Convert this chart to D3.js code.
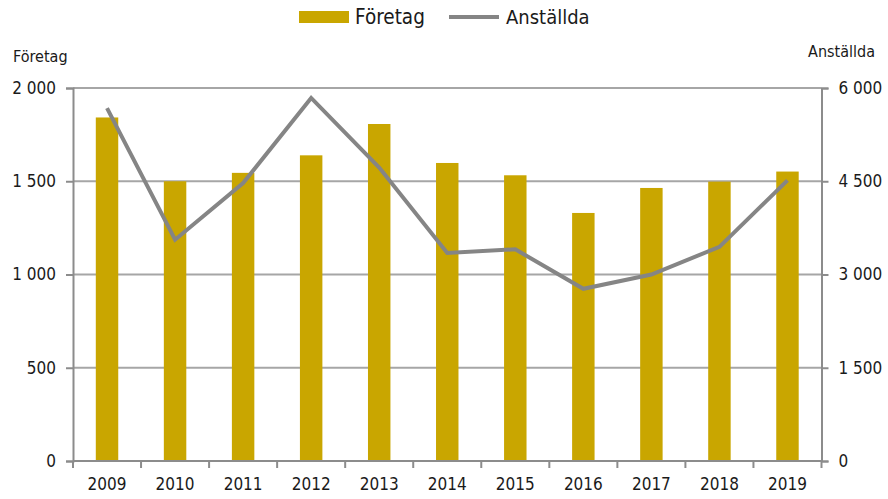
<!DOCTYPE html>
<html><head><meta charset="utf-8">
<script src="https://cdn.jsdelivr.net/npm/d3@7"></script>
<style>
body{margin:0;background:#fff;}
text{font-family:"DejaVu Sans Condensed","DejaVu Sans",sans-serif;font-stretch:condensed;fill:#1a1a1a;}
</style></head>
<body><svg id="c" width="888" height="499"></svg>
<script>
const years = ["2009","2010","2011","2012","2013","2014","2015","2016","2017","2018","2019"];
const foretag = [1842,1500,1545,1639,1807,1598,1532,1330,1464,1498,1552];
const anstallda = [5675,3560,4470,5840,4720,3345,3405,2770,3000,3445,4515];
const leftTicks = [0,500,1000,1500,2000];
const rightTicks = [0,1500,3000,4500,6000];

const svg = d3.select("#c");
const L=73, R=821.5, T=88, B=461;
const fmt = v => d3.format(",")(v).replace(/,/g," ");

const x = d3.scaleBand().domain(years).range([L,R]).paddingInner(0).paddingOuter(0);
const yL = d3.scaleLinear().domain([0,2000]).range([B,T]);
const yR = d3.scaleLinear().domain([0,6000]).range([B,T]);

// gridlines
svg.append("g").selectAll("line").data(leftTicks.filter(d=>d>0)).join("line")
  .attr("x1",L).attr("x2",R).attr("y1",d=>yL(d)).attr("y2",d=>yL(d))
  .attr("stroke","#a6a6a6").attr("stroke-width",2);

// bars
const bw = x.bandwidth()*0.33;
svg.append("g").selectAll("rect").data(years).join("rect")
  .attr("x",(d)=>x(d)+x.bandwidth()/2-bw/2)
  .attr("width",bw)
  .attr("y",(d,i)=>yL(foretag[i]))
  .attr("height",(d,i)=>B-yL(foretag[i]))
  .attr("fill","#c9a600");

// axes
const axColor="#8c8c8c";
const gl = svg.append("g").attr("transform",`translate(${L},0)`)
  .call(d3.axisLeft(yL).tickValues(leftTicks).tickFormat(fmt).tickSize(7).tickPadding(10));
const gr = svg.append("g").attr("transform",`translate(${R},0)`)
  .call(d3.axisRight(yR).tickValues(rightTicks).tickFormat(fmt).tickSize(7).tickPadding(10));
const gx = svg.append("g").attr("transform",`translate(0,${B})`)
  .call(d3.axisBottom(x).tickSize(0).tickPadding(17));
// x boundary ticks
svg.append("g").selectAll("line").data(years.concat(["end"])).join("line")
  .attr("x1",(d,i)=> i<years.length ? x(d) : R).attr("x2",(d,i)=> i<years.length ? x(d) : R)
  .attr("y1",B).attr("y2",B+7).attr("stroke",axColor).attr("stroke-width",2);

[gl,gr,gx].forEach(g=>{
  g.selectAll(".domain").attr("stroke",axColor).attr("stroke-width",2);
  g.selectAll(".tick line").attr("stroke",axColor).attr("stroke-width",2);
  g.selectAll(".tick text").attr("font-size",17).attr("fill","#1a1a1a")
   .style("font-family",'"DejaVu Sans Condensed","DejaVu Sans",sans-serif');
});
gx.select(".domain").attr("d",`M${L},0H${R}`);

// line
const line = d3.line().x((d,i)=>x(years[i])+x.bandwidth()/2).y(d=>yR(d));
svg.append("path").datum(anstallda).attr("d",line)
  .attr("fill","none").attr("stroke","#858585").attr("stroke-width",4).attr("stroke-linejoin","miter");

// axis titles
svg.append("text").attr("x",13).attr("y",62).attr("font-size",16).text("Företag");
svg.append("text").attr("x",875).attr("y",57).attr("font-size",16).attr("text-anchor","end").text("Anställda");

// legend
svg.append("rect").attr("x",299).attr("y",11).attr("width",50).attr("height",12).attr("fill","#c9a600");
svg.append("text").attr("x",355).attr("y",24).attr("font-size",20.5).text("Företag");
svg.append("line").attr("x1",449).attr("x2",499).attr("y1",17).attr("y2",17)
  .attr("stroke","#858585").attr("stroke-width",4);
svg.append("text").attr("x",506).attr("y",24).attr("font-size",20).text("Anställda");
</script></body></html>
